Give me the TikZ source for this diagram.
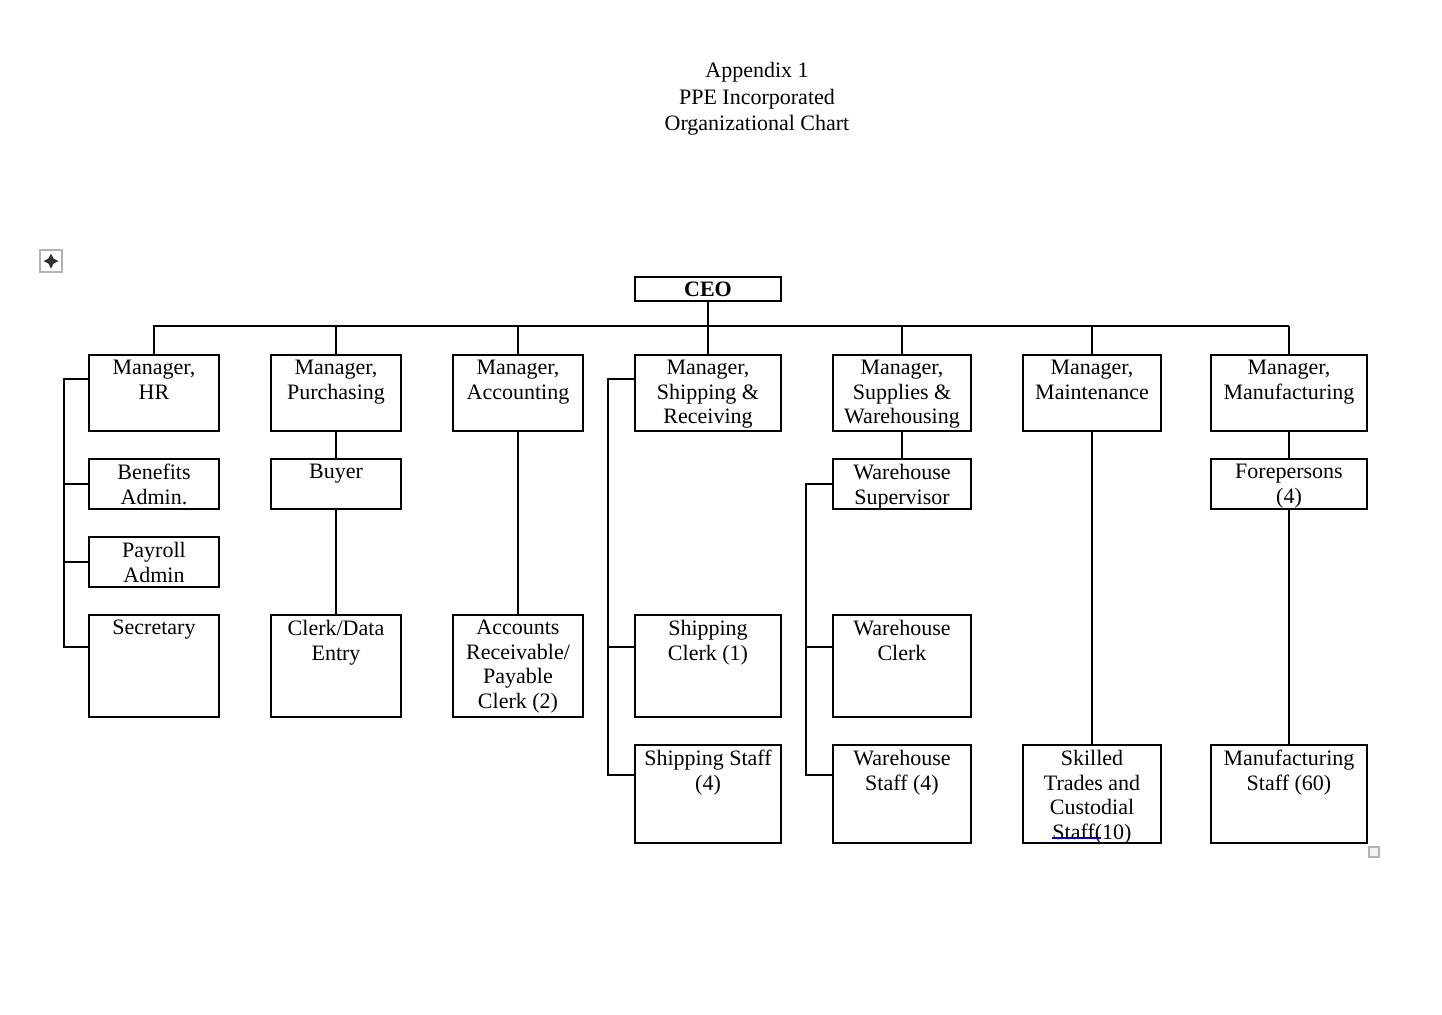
\documentclass[tikz,border=0pt]{standalone}
\usepackage{fontspec}
\setmainfont{Liberation Serif}
\usetikzlibrary{calc}
\newcommand\orgbox[6]{%
  \node[box, minimum width={(#4-#2-2)*0.5pt}, minimum height={(#5-#3-2)*0.5pt}] (#1) at (#2+1,#3+1) {};
  \node[lbl] (#1-t) at ($(#1.north)+(0,6)$) {#6};}
\begin{document}
\begin{tikzpicture}[x=0.5pt,y=-0.5pt,
  box/.style={draw, line width=1pt, inner sep=0pt, anchor=north west},
  lbl/.style={anchor=north, align=center, inner sep=0pt, font=\fontsize{11pt}{12.25pt}\selectfont},
  link/.style={draw, line width=1pt},
  ttl/.style={anchor=north, align=center, inner sep=0pt, font=\fontsize{11pt}{13.3pt}\selectfont}]
\useasboundingbox[fill=white] (0,0) rectangle (1442,1014);

\node[ttl] (title) at (757,62) {Appendix 1\\PPE Incorporated\\Organizational Chart};

% CEO
\node[box, minimum width={146*0.5pt}, minimum height={24*0.5pt}] (ceo) at (634,276) {};
\node[inner sep=0pt, font=\fontsize{11pt}{12.25pt}\selectfont\bfseries] (ceo-t) at (ceo.center) {CEO};

% managers
\orgbox{hr}{87}{353}{219}{431}{Manager,\\HR}
\orgbox{pur}{269}{353}{401}{431}{Manager,\\Purchasing}
\orgbox{acc}{451}{353}{583}{431}{Manager,\\Accounting}
\orgbox{shp}{633}{353}{781}{431}{Manager,\\Shipping \&\\Receiving}
\orgbox{sup}{831}{353}{971}{431}{Manager,\\Supplies \&\\Warehousing}
\orgbox{mnt}{1021}{353}{1161}{431}{Manager,\\Maintenance}
\orgbox{mfg}{1209}{353}{1367}{431}{Manager,\\Manufacturing}

% second row
\orgbox{ben}{87}{457}{219}{509}{Benefits\\Admin.}
\orgbox{buy}{269}{457}{401}{509}{Buyer}
\orgbox{wsup}{831}{457}{971}{509}{Warehouse\\Supervisor}
\orgbox{fore}{1209}{457}{1367}{509}{Forepersons\\(4)}
\orgbox{pay}{87}{535}{219}{587}{Payroll\\Admin}

% third row
\orgbox{sec}{87}{613}{219}{717}{Secretary}
\orgbox{cde}{269}{613}{401}{717}{Clerk/Data\\Entry}
\orgbox{ar}{451}{613}{583}{717}{Accounts\\Receivable/\\Payable\\Clerk (2)}
\orgbox{scl}{633}{613}{781}{717}{Shipping\\Clerk (1)}
\orgbox{wcl}{831}{613}{971}{717}{Warehouse\\Clerk}

% fourth row
\orgbox{sst}{633}{743}{781}{843}{Shipping Staff\\(4)}
\orgbox{wst}{831}{743}{971}{843}{Warehouse\\Staff (4)}
\orgbox{skl}{1021}{743}{1161}{843}{Skilled\\Trades and\\Custodial\\Staff(10)}
\orgbox{mst}{1209}{743}{1367}{843}{Manufacturing\\Staff (60)}

% bus
\coordinate (busL) at (153,326);
\coordinate (busR) at (1289,326);
\path[link] (busL) -- (busR);
\path[link] (ceo.south) -- (ceo.south |- busL);
\foreach \m in {hr,pur,acc,shp,sup,mnt,mfg}
  \path[link] (\m.north) -- (\m.north |- busL);

% HR group
\path[link] ($(hr.north west)+(0,25)$) -- ++(-24,0) |- ($(sec.north west)+(0,33)$);
\path[link] (ben.west) -- ++(-24,0);
\path[link] (pay.west) -- ++(-24,0);

% Purchasing
\path[link] (pur.south) -- (buy.north);
\path[link] (buy.south) -- (cde.north);
% Accounting
\path[link] (acc.south) -- (ar.north);
% Shipping
\path[link] ($(shp.north west)+(0,25)$) -- ++(-26,0) |- ($(sst.north west)+(0,31)$);
\path[link] ($(scl.north west)+(0,33)$) -- ++(-26,0);
% Supplies
\path[link] (sup.south) -- (wsup.north);
\path[link] (wsup.west) -- ++(-26,0) |- ($(wst.north west)+(0,31)$);
\path[link] ($(wcl.north west)+(0,33)$) -- ++(-26,0);
% Maintenance
\path[link] (mnt.south) -- (skl.north);
% Manufacturing
\path[link] (mfg.south) -- (fore.north);
\path[link] (fore.south) -- (mst.north);

% editor artifacts
\draw[gray!60, line width=0.8pt] (40,250) rectangle (62,272);
\draw[gray!40!black, line width=0.9pt, <->, >=stealth] (43.5,261) -- (58.5,261);
\draw[gray!40!black, line width=0.9pt, <->, >=stealth] (51,253.5) -- (51,268.5);
\draw[gray!60, line width=0.8pt, fill=gray!10] (1369,847) rectangle (1379,857);
\draw[blue!70!black, line width=0.8pt] (1052,838) -- (1101,838);
\end{tikzpicture}
\end{document}
